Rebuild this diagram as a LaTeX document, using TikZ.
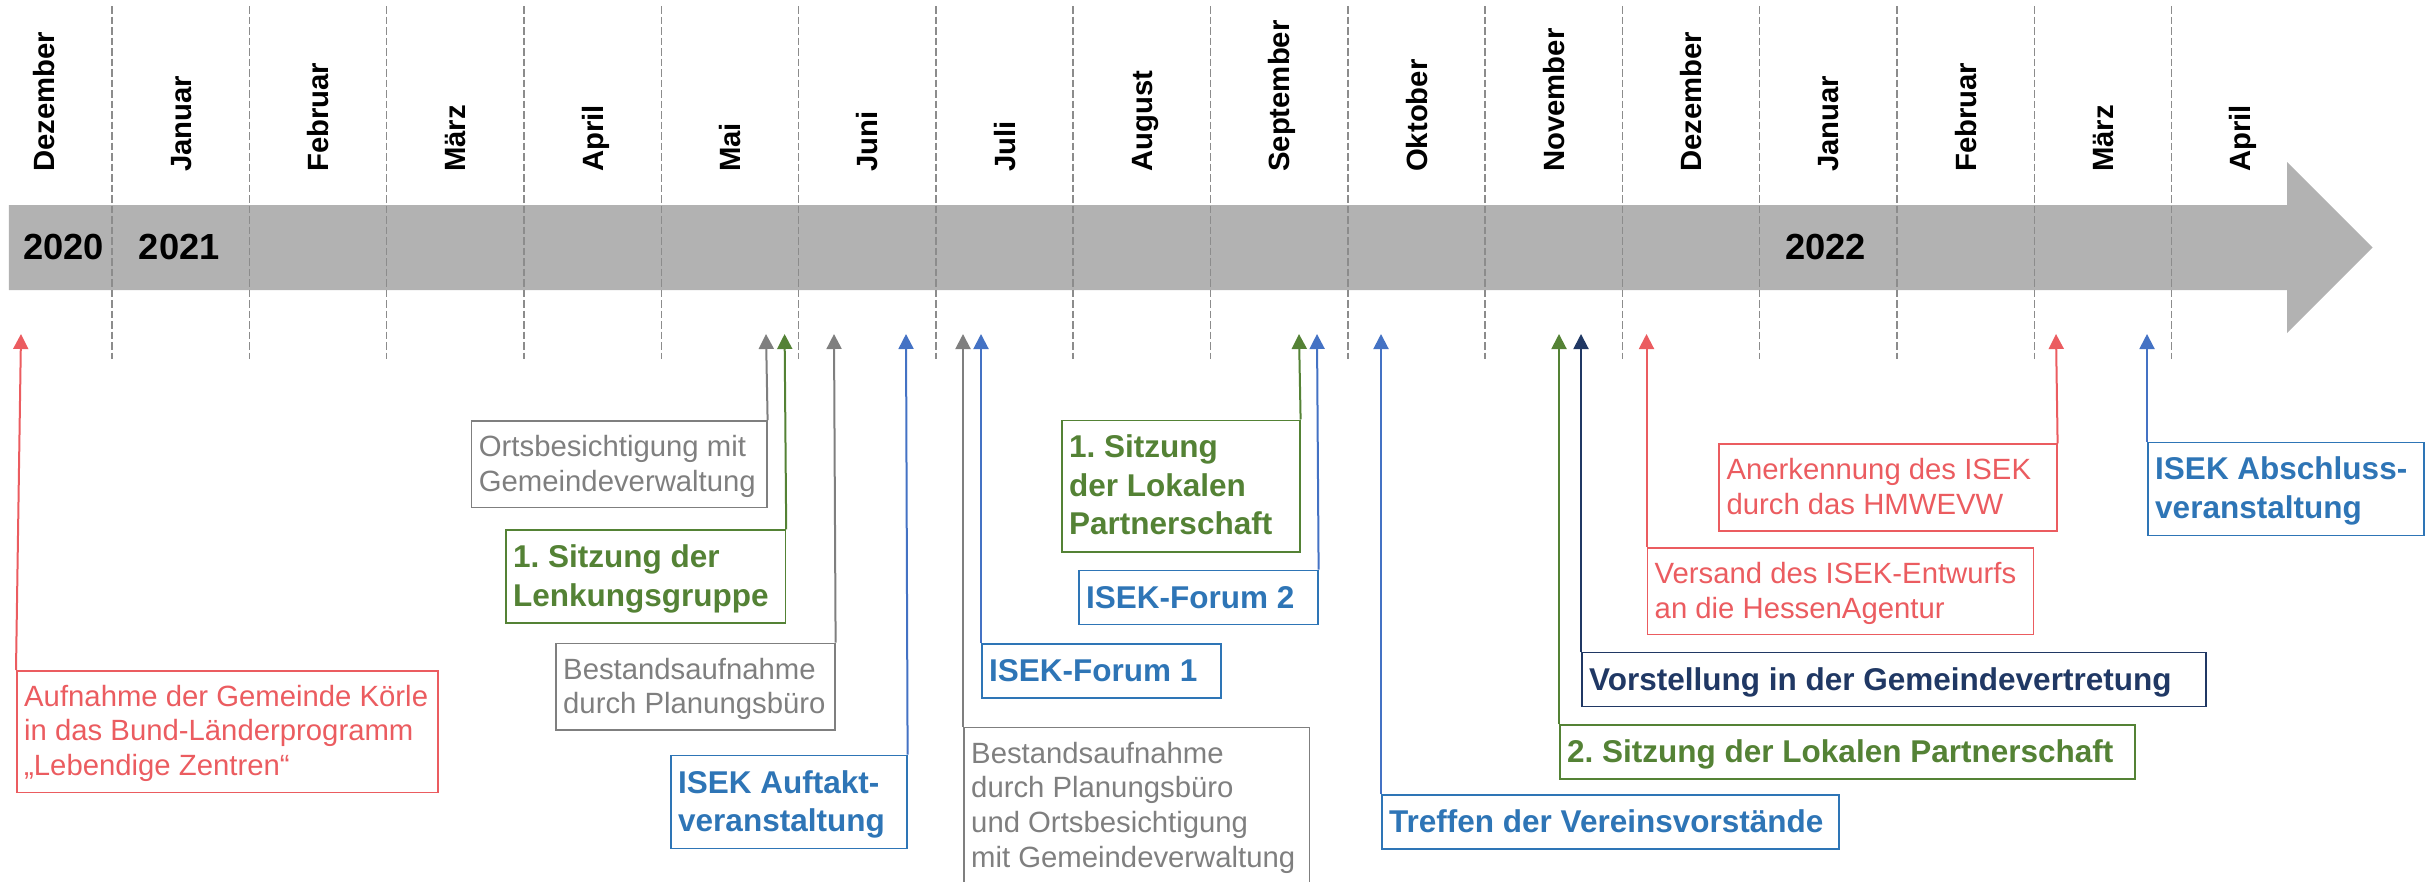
\documentclass[tikz,border=0pt]{standalone}
\usepackage{fontspec}
\setmainfont{Liberation Sans}
\usetikzlibrary{arrows.meta}
\definecolor{cred}{HTML}{EB5C60}
\definecolor{cgray}{HTML}{7F7F7F}
\definecolor{cgreen}{HTML}{548235}
\definecolor{cblue}{HTML}{2E75B6}
\definecolor{cblueline}{HTML}{4472C4}
\definecolor{cnavy}{HTML}{203864}
\definecolor{cband}{HTML}{B2B2B2}
\definecolor{cdash}{HTML}{8C8C8C}
\frenchspacing
\tikzset{
  evbox/.style={draw, line width=1.6pt, inner sep=0pt, anchor=north west},
  evtext/.style={anchor=base west, align=left, inner sep=0pt},
  reg/.style={font=\fontsize{29.3}{34.8}\selectfont\frenchspacing},
  bld/.style={font=\fontsize{31.5}{38.4}\selectfont\bfseries\frenchspacing},
  conn/.style={line width=2pt, -{Triangle[width=15pt,length=15pt]}},
  dashline/.style={cdash, line width=1.5pt, dash pattern=on 7.5pt off 3pt},
  month/.style={rotate=90, anchor=base west, inner sep=0pt, font=\fontsize{29.3}{35}\selectfont\bfseries},
  yearlabel/.style={anchor=base west, inner sep=0pt, font=\fontsize{36.3}{40}\selectfont\bfseries}
}
\begin{document}
\begin{tikzpicture}[x=1pt,y=-1pt]
\useasboundingbox (0,0) rectangle (2425,881);
\clip (0,0) rectangle (2425,881);
% timeline band
\fill[cband] (8.8,205) -- (2287,205) -- (2287,162) -- (2372.6,247.5) -- (2287,333) -- (2287,290) -- (8.8,290) -- cycle;
% month separators
\foreach \k in {0,...,15} \draw[dashline] ({112.1+137.3*\k},6) -- ({112.1+137.3*\k},359);
% months
\foreach \m [count=\k from 0] in {Dezember,Januar,Februar,März,April,Mai,Juni,Juli,August,September,Oktober,November,Dezember,Januar,Februar,März,April}
  \node[month] (m\k) at ({54+137.3*\k},172) {\m};
% years
\node[yearlabel] (y2020) at (23.2,259.3) {2020};
\node[yearlabel] (y2021) at (138.7,259.3) {2021};
\node[yearlabel] (y2022) at (1785,259.3) {2022};

% arrow tips
\coordinate (aA) at (21,334);
\coordinate (aO) at (766,334);
\coordinate (aL) at (784.6,334);
\coordinate (aB1) at (834,334);
\coordinate (aAU) at (906,334);
\coordinate (aB2) at (963,334);
\coordinate (aF1) at (981,334);
\coordinate (aP1) at (1299,334);
\coordinate (aF2) at (1317,334);
\coordinate (aT) at (1381,334);
\coordinate (aS2) at (1559,334);
\coordinate (aV) at (1581,334);
\coordinate (aVE) at (1646.5,334);
\coordinate (aAN) at (2056,334);
\coordinate (aAB) at (2147,334);

% boxes (text nodes are placed by the baseline of their last line)
\node[evbox, draw=cred, minimum width=421.4pt, minimum height=121.5pt] (bA) at (16,670) {};
\node[evtext, reg, text=cred] (tA) at (24,775.6) {Aufnahme der Gemeinde Körle\\in das Bund-Länderprogramm\\„Lebendige Zentren“};

\node[evbox, draw=cgray, minimum width=295.3pt, minimum height=86.5pt] (bO) at (470.7,420.2) {};
\node[evtext, reg, text=cgray] (tO) at (478.7,491.3) {Ortsbesichtigung mit\\Gemeindeverwaltung};

\node[evbox, draw=cgreen, minimum width=279.6pt, minimum height=93pt] (bL) at (505,529.3) {};
\node[evtext, bld, text=cgreen] (tL) at (513,606) {1. Sitzung der\\Lenkungsgruppe};

\node[evbox, draw=cgray, minimum width=279pt, minimum height=86.5pt] (bB1) at (555,642.7) {};
\node[evtext, reg, text=cgray] (tB1) at (563,713.8) {Bestandsaufnahme\\durch Planungsbüro};

\node[evbox, draw=cblue, minimum width=236pt, minimum height=93pt] (bAU) at (670,754.7) {};
\node[evtext, bld, text=cblue] (tAU) at (678,831.4) {ISEK Auftakt-\\veranstaltung};

\node[evbox, draw=cgray, minimum width=345.6pt, minimum height=156pt] (bB2) at (963,726.8) {};
\node[evtext, reg, text=cgray] (tB2) at (971,867.5) {Bestandsaufnahme\\durch Planungsbüro\\und Ortsbesichtigung\\mit Gemeindeverwaltung};

\node[evbox, draw=cblue, minimum width=239.3pt, minimum height=54pt] (bF1) at (981,643) {};
\node[evtext, bld, text=cblue] (tF1) at (989,681.3) {ISEK-Forum 1};

\node[evbox, draw=cgreen, minimum width=238pt, minimum height=131.5pt] (bP1) at (1061,419.5) {};
\node[evtext, bld, text=cgreen] (tP1) at (1069,534.6) {1. Sitzung\\der Lokalen\\Partnerschaft};

\node[evbox, draw=cblue, minimum width=239pt, minimum height=54pt] (bF2) at (1078,569.7) {};
\node[evtext, bld, text=cblue] (tF2) at (1086,608) {ISEK-Forum 2};

\node[evbox, draw=cblue, minimum width=457pt, minimum height=54pt] (bT) at (1381,794) {};
\node[evtext, bld, text=cblue] (tT) at (1389,832.3) {Treffen der Vereinsvorstände};

\node[evbox, draw=cgreen, minimum width=575pt, minimum height=54pt] (bS2) at (1559,724.3) {};
\node[evtext, bld, text=cgreen] (tS2) at (1567,762.6) {2. Sitzung der Lokalen Partnerschaft};

\node[evbox, draw=cnavy, minimum width=624pt, minimum height=54pt] (bV) at (1581,651.7) {};
\node[evtext, bld, text=cnavy] (tV) at (1589,690) {Vorstellung in der Gemeindevertretung};

\node[evbox, draw=cred, minimum width=386.2pt, minimum height=86.5pt] (bVE) at (1646.5,547) {};
\node[evtext, reg, text=cred] (tVE) at (1654.5,618.1) {Versand des ISEK-Entwurfs\\an die HessenAgentur};

\node[evbox, draw=cred, minimum width=337.7pt, minimum height=86.5pt] (bAN) at (1718.3,443.4) {};
\node[evtext, reg, text=cred] (tAN) at (1726.3,514.5) {Anerkennung des ISEK\\durch das HMWEVW};

\node[evbox, draw=cblue, minimum width=276pt, minimum height=93pt] (bAB) at (2147,441.6) {};
\node[evtext, bld, text=cblue] (tAB) at (2155,518.3) {ISEK Abschluss-\\veranstaltung};

% connectors
\draw[conn, cred] (bA.north west) -- (aA);
\draw[conn, cgray] (bO.north east) -- (aO);
\draw[conn, cgreen] (bL.north east) -- (aL);
\draw[conn, cgray] (bB1.north east) -- (aB1);
\draw[conn, cblueline] (bAU.north east) -- (aAU);
\draw[conn, cgray] (bB2.north west) -- (aB2);
\draw[conn, cblueline] (bF1.north west) -- (aF1);
\draw[conn, cgreen] (bP1.north east) -- (aP1);
\draw[conn, cblueline] (bF2.north east) -- (aF2);
\draw[conn, cblueline] (bT.north west) -- (aT);
\draw[conn, cgreen] (bS2.north west) -- (aS2);
\draw[conn, cnavy] (bV.north west) -- (aV);
\draw[conn, cred] (bVE.north west) -- (aVE);
\draw[conn, cred] (bAN.north east) -- (aAN);
\draw[conn, cblueline] (bAB.north west) -- (aAB);
\end{tikzpicture}
\end{document}
